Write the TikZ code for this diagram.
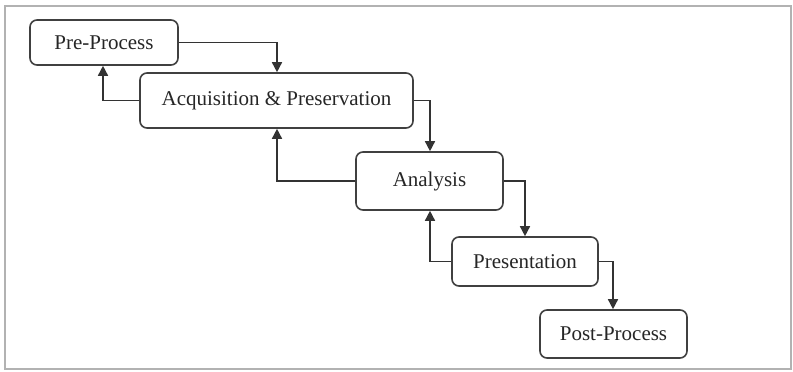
\documentclass[tikz,border=0pt]{standalone}
\usepackage{fontspec}
\setmainfont{Liberation Serif}
\usetikzlibrary{arrows.meta}
\begin{document}
\begin{tikzpicture}[x=1pt,y=-1pt,
  stage/.style={draw=black!75, line width=1.6pt, rounded corners=7pt, inner sep=0pt, font=\fontsize{21}{23}\selectfont, text=black!85},
  flow/.style={draw=black!80, line width=1.5pt, -{Triangle[width=10pt,length=10pt]}}]
\useasboundingbox (0,0) rectangle (793,372);
\draw[black!30, line width=2pt] (4.5,5.5) rectangle (790.5,368.5);
\node[stage, minimum width=148pt, minimum height=45pt] (pre) at (104,42.5) {\raisebox{-2pt}{Pre-Process}};
\node[stage, minimum width=273pt, minimum height=55pt] (acq) at (276.5,100.5) {\raisebox{-2pt}{Acquisition \& Preservation}};
\node[stage, minimum width=147pt, minimum height=58pt] (ana) at (429.5,181) {\raisebox{-2pt}{Analysis}};
\node[stage, minimum width=146pt, minimum height=49pt] (pres) at (525,261.5) {\raisebox{-2pt}{Presentation}};
\node[stage, minimum width=147pt, minimum height=48pt] (post) at (613.5,334) {\raisebox{-2pt}{Post-Process}};
\coordinate (c1) at (277,42.5);
\coordinate (c2) at (103,100.5);
\coordinate (c3) at (430,100.5);
\coordinate (c4) at (277,181);
\coordinate (c5) at (525,181);
\coordinate (c6) at (430,261.5);
\coordinate (c7) at (613,261.5);
\draw[flow] (pre.east) -- (c1) -- (acq.north -| c1);
\draw[flow] (acq.west) -- (c2) -- (pre.south -| c2);
\draw[flow] (acq.east) -- (c3) -- (ana.north -| c3);
\draw[flow] (ana.west) -- (c4) -- (acq.south -| c4);
\draw[flow] (ana.east) -- (c5) -- (pres.north -| c5);
\draw[flow] (pres.west) -- (c6) -- (ana.south -| c6);
\draw[flow] (pres.east) -- (c7) -- (post.north -| c7);
\end{tikzpicture}
\end{document}
